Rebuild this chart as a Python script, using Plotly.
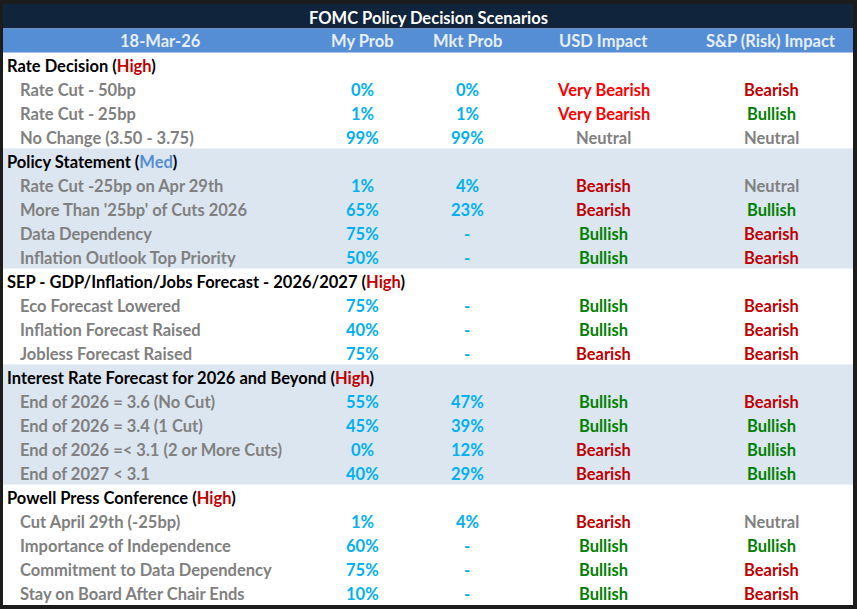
import plotly.graph_objects as go

title = "FOMC Policy Decision Scenarios"
columns = ["18-Mar-26", "My Prob", "Mkt Prob", "USD Impact", "S&P (Risk) Impact"]

groups = ["Rate Decision", "Policy Statement",
          "SEP - GDP/Inflation/Jobs Forecast - 2026/2027",
          "Interest Rate Forecast for 2026 and Beyond",
          "Powell Press Conference"]
importance = ["High", "Med", "High", "High", "High"]

scenario_group = [0, 0, 0, 1, 1, 1, 1, 2, 2, 2, 3, 3, 3, 3, 4, 4, 4, 4]
scenarios = ["Rate Cut - 50bp", "Rate Cut - 25bp", "No Change (3.50 - 3.75)",
             "Rate Cut -25bp on Apr 29th", "More Than '25bp' of Cuts 2026",
             "Data Dependency", "Inflation Outlook Top Priority",
             "Eco Forecast Lowered", "Inflation Forecast Raised", "Jobless Forecast Raised",
             "End of 2026 = 3.6 (No Cut)", "End of 2026 = 3.4 (1 Cut)",
             "End of 2026 =< 3.1 (2 or More Cuts)", "End of 2027 < 3.1",
             "Cut April 29th (-25bp)", "Importance of Independence",
             "Commitment to Data Dependency", "Stay on Board After Chair Ends"]
my_prob = [0, 1, 99, 1, 65, 75, 50, 75, 40, 75, 55, 45, 0, 40, 1, 60, 75, 10]
mkt_prob = [0, 1, 99, 4, 23, None, None, None, None, None, 47, 39, 12, 29, 4, None, None, None]
usd_impact = ["Very Bearish", "Very Bearish", "Neutral", "Bearish", "Bearish", "Bullish", "Bullish",
              "Bullish", "Bullish", "Bearish", "Bullish", "Bullish", "Bearish", "Bearish",
              "Bearish", "Bullish", "Bullish", "Bullish"]
sp_impact = ["Bearish", "Bullish", "Neutral", "Neutral", "Bullish", "Bearish", "Bearish",
             "Bearish", "Bearish", "Bearish", "Bearish", "Bullish", "Bullish", "Bullish",
             "Neutral", "Bullish", "Bearish", "Bearish"]

W, H = 857, 609
FONT = "Lato"
SIZE = 16.5
impact_color = {"Very Bearish": "#ff0000", "Bearish": "#c00000",
                "Bullish": "#008000", "Neutral": "#808080"}
imp_color = {"High": "#c00000", "Med": "#558ed5"}
col_x = [160, 362, 467, 603, 771]
body_top, row_h = 52.5, 24

# build row list: group headers followed by their scenarios
rows = []
for g, name in enumerate(groups):
    rows.append(("group", g))
    for i, sg in enumerate(scenario_group):
        if sg == g:
            rows.append(("item", i))

shapes = [
    dict(type="rect", x0=0, x1=W, y0=0, y1=H, fillcolor="#1c1c1c", line_width=0, layer="below"),
    dict(type="rect", x0=3, x1=853, y0=4, y1=605, fillcolor="white", line_width=0, layer="below"),
    dict(type="rect", x0=3, x1=853, y0=4, y1=28.5, fillcolor="#10243c", line_width=0, layer="below"),
    dict(type="rect", x0=3, x1=853, y0=28.5, y1=body_top, fillcolor="#558ed5", line_width=0, layer="below"),
]
ann = []

def text(x, y, s, color, anchor="center", size=SIZE):
    ann.append(dict(x=x, y=y, text=s, showarrow=False, xanchor=anchor, yanchor="middle",
                    font=dict(family=FONT, size=size, color=color, weight="bold")))

text(428, 17.5, title, "white")
for k, c in enumerate(columns):
    text(col_x[k], 41, c, "#e6eef8")

# shaded groups
r = 0
for g in range(len(groups)):
    n = 1 + scenario_group.count(g)
    if g % 2 == 1:
        shapes.append(dict(type="rect", x0=3, x1=853, y0=body_top + r * row_h,
                           y1=body_top + (r + n) * row_h, fillcolor="#dce6f1",
                           line_width=0, layer="below"))
    r += n

for r, (kind, idx) in enumerate(rows):
    y = body_top + r * row_h + row_h / 2 + 1
    if kind == "group":
        s = "%s (<span style='color:%s'>%s</span>)" % (groups[idx], imp_color[importance[idx]], importance[idx])
        text(5, y, s, "black", "left")
    else:
        text(18, y, scenarios[idx], "#808080", "left")
        text(col_x[1], y, "%d%%" % my_prob[idx], "#00b0f0")
        m = mkt_prob[idx]
        text(col_x[2], y, "-" if m is None else "%d%%" % m, "#00b0f0")
        text(col_x[3], y, usd_impact[idx], impact_color[usd_impact[idx]])
        text(col_x[4], y, sp_impact[idx], impact_color[sp_impact[idx]])

fig = go.Figure()
fig.update_layout(
    width=W, height=H, margin=dict(l=0, r=0, t=0, b=0),
    paper_bgcolor="white", plot_bgcolor="white",
    xaxis=dict(range=[0, W], visible=False, fixedrange=True),
    yaxis=dict(range=[H, 0], visible=False, fixedrange=True),
    shapes=shapes, annotations=ann, showlegend=False,
)
# page body has a default margin; drop it so the table sits at the window corner
fig.write_html("out.html", config={"displayModeBar": False},
               post_script="document.body.style.margin='0px';")
